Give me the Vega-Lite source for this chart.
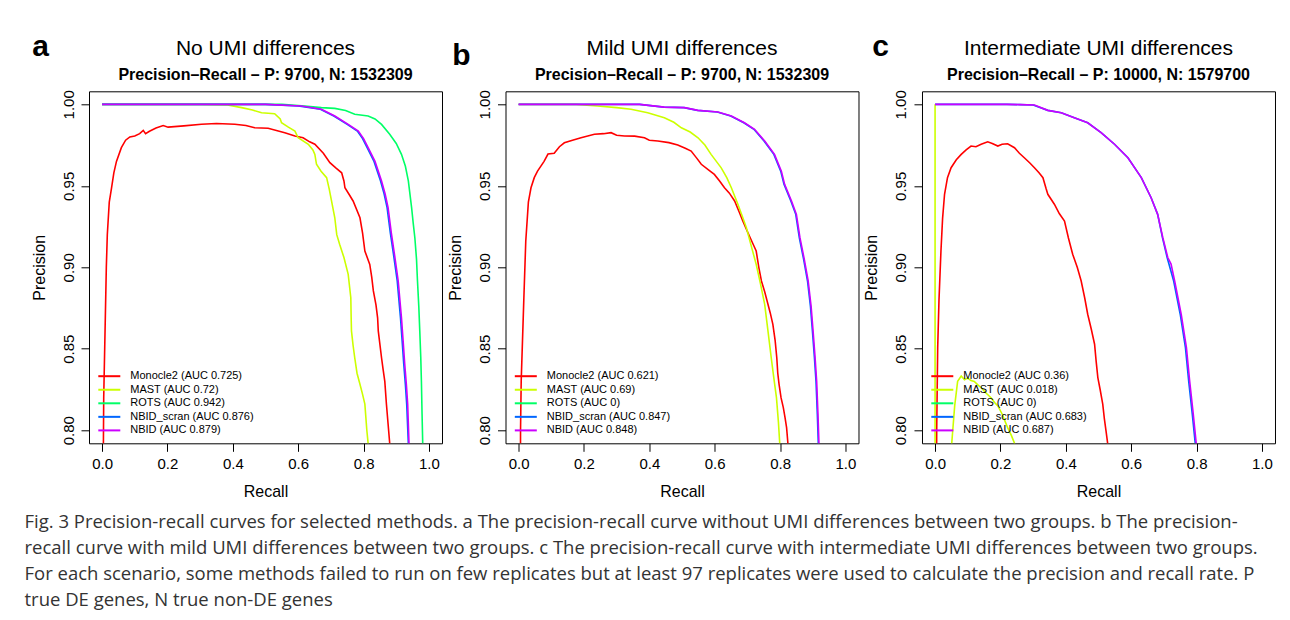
{
"$schema": "https://vega.github.io/schema/vega-lite/v6.json",
"background": "white",
"autosize": {"type": "pad"},
"padding": {"left": 24, "top": 30.3, "right": 0, "bottom": 0},
"bounds": "flush",
"spacing": 63.5,
"title": {"text": ["Fig. 3 Precision-recall curves for selected methods. a The precision-recall curve without UMI differences between two groups. b The precision-", "recall curve with mild UMI differences between two groups. c The precision-recall curve with intermediate UMI differences between two groups.", "For each scenario, some methods failed to run on few replicates but at least 97 replicates were used to calculate the precision and recall rate. P", "true DE genes, N true non-DE genes"], "orient": "bottom", "anchor": "start", "frame": "bounds", "font": "Open Sans", "fontSize": 18.5, "fontWeight": "normal", "color": "#333333", "lineHeight": 26, "offset": 13.1, "dx": -6},
"datasets": {
"a": [
{"m":"Monocle2 (AUC 0.725)","r":0.001,"p":0.70},{"m":"Monocle2 (AUC 0.725)","r":0.005,"p":0.82},{"m":"Monocle2 (AUC 0.725)","r":0.008,"p":0.85},{"m":"Monocle2 (AUC 0.725)","r":0.010,"p":0.870},{"m":"Monocle2 (AUC 0.725)","r":0.013,"p":0.90},{"m":"Monocle2 (AUC 0.725)","r":0.016,"p":0.920},{"m":"Monocle2 (AUC 0.725)","r":0.022,"p":0.94},{"m":"Monocle2 (AUC 0.725)","r":0.029,"p":0.9487},{"m":"Monocle2 (AUC 0.725)","r":0.036,"p":0.958},{"m":"Monocle2 (AUC 0.725)","r":0.044,"p":0.965},{"m":"Monocle2 (AUC 0.725)","r":0.059,"p":0.9734},{"m":"Monocle2 (AUC 0.725)","r":0.072,"p":0.978},{"m":"Monocle2 (AUC 0.725)","r":0.085,"p":0.980},{"m":"Monocle2 (AUC 0.725)","r":0.1,"p":0.9806},{"m":"Monocle2 (AUC 0.725)","r":0.115,"p":0.982},{"m":"Monocle2 (AUC 0.725)","r":0.126,"p":0.984},{"m":"Monocle2 (AUC 0.725)","r":0.133,"p":0.982},{"m":"Monocle2 (AUC 0.725)","r":0.145,"p":0.9835},{"m":"Monocle2 (AUC 0.725)","r":0.165,"p":0.9855},{"m":"Monocle2 (AUC 0.725)","r":0.187,"p":0.987},{"m":"Monocle2 (AUC 0.725)","r":0.202,"p":0.986},{"m":"Monocle2 (AUC 0.725)","r":0.25,"p":0.9868},{"m":"Monocle2 (AUC 0.725)","r":0.304,"p":0.9878},{"m":"Monocle2 (AUC 0.725)","r":0.35,"p":0.9882},{"m":"Monocle2 (AUC 0.725)","r":0.406,"p":0.9878},{"m":"Monocle2 (AUC 0.725)","r":0.44,"p":0.987},{"m":"Monocle2 (AUC 0.725)","r":0.467,"p":0.9856},{"m":"Monocle2 (AUC 0.725)","r":0.508,"p":0.9853},{"m":"Monocle2 (AUC 0.725)","r":0.559,"p":0.9826},{"m":"Monocle2 (AUC 0.725)","r":0.59,"p":0.9806},{"m":"Monocle2 (AUC 0.725)","r":0.615,"p":0.9795},{"m":"Monocle2 (AUC 0.725)","r":0.635,"p":0.977},{"m":"Monocle2 (AUC 0.725)","r":0.651,"p":0.9755},{"m":"Monocle2 (AUC 0.725)","r":0.677,"p":0.970},{"m":"Monocle2 (AUC 0.725)","r":0.697,"p":0.9642},{"m":"Monocle2 (AUC 0.725)","r":0.715,"p":0.961},{"m":"Monocle2 (AUC 0.725)","r":0.733,"p":0.958},{"m":"Monocle2 (AUC 0.725)","r":0.740,"p":0.953},{"m":"Monocle2 (AUC 0.725)","r":0.743,"p":0.9488},{"m":"Monocle2 (AUC 0.725)","r":0.755,"p":0.945},{"m":"Monocle2 (AUC 0.725)","r":0.768,"p":0.9407},{"m":"Monocle2 (AUC 0.725)","r":0.789,"p":0.9304},{"m":"Monocle2 (AUC 0.725)","r":0.797,"p":0.921},{"m":"Monocle2 (AUC 0.725)","r":0.804,"p":0.910},{"m":"Monocle2 (AUC 0.725)","r":0.819,"p":0.9018},{"m":"Monocle2 (AUC 0.725)","r":0.825,"p":0.894},{"m":"Monocle2 (AUC 0.725)","r":0.830,"p":0.8855},{"m":"Monocle2 (AUC 0.725)","r":0.838,"p":0.877},{"m":"Monocle2 (AUC 0.725)","r":0.843,"p":0.869},{"m":"Monocle2 (AUC 0.725)","r":0.845,"p":0.861},{"m":"Monocle2 (AUC 0.725)","r":0.855,"p":0.8445},{"m":"Monocle2 (AUC 0.725)","r":0.860,"p":0.837},{"m":"Monocle2 (AUC 0.725)","r":0.865,"p":0.830},{"m":"Monocle2 (AUC 0.725)","r":0.870,"p":0.816},{"m":"Monocle2 (AUC 0.725)","r":0.875,"p":0.804},{"m":"Monocle2 (AUC 0.725)","r":0.880,"p":0.792},{"m":"Monocle2 (AUC 0.725)","r":0.885,"p":0.78},
{"m":"MAST (AUC 0.72)","r":0,"p":1},{"m":"MAST (AUC 0.72)","r":0.30,"p":1},{"m":"MAST (AUC 0.72)","r":0.38,"p":0.9997},{"m":"MAST (AUC 0.72)","r":0.427,"p":0.998},{"m":"MAST (AUC 0.72)","r":0.46,"p":0.9965},{"m":"MAST (AUC 0.72)","r":0.488,"p":0.9948},{"m":"MAST (AUC 0.72)","r":0.528,"p":0.9942},{"m":"MAST (AUC 0.72)","r":0.545,"p":0.991},{"m":"MAST (AUC 0.72)","r":0.549,"p":0.9887},{"m":"MAST (AUC 0.72)","r":0.570,"p":0.986},{"m":"MAST (AUC 0.72)","r":0.590,"p":0.9836},{"m":"MAST (AUC 0.72)","r":0.600,"p":0.9795},{"m":"MAST (AUC 0.72)","r":0.631,"p":0.9755},{"m":"MAST (AUC 0.72)","r":0.645,"p":0.972},{"m":"MAST (AUC 0.72)","r":0.651,"p":0.9693},{"m":"MAST (AUC 0.72)","r":0.656,"p":0.9632},{"m":"MAST (AUC 0.72)","r":0.670,"p":0.959},{"m":"MAST (AUC 0.72)","r":0.687,"p":0.955},{"m":"MAST (AUC 0.72)","r":0.695,"p":0.948},{"m":"MAST (AUC 0.72)","r":0.702,"p":0.9407},{"m":"MAST (AUC 0.72)","r":0.712,"p":0.9304},{"m":"MAST (AUC 0.72)","r":0.718,"p":0.92},{"m":"MAST (AUC 0.72)","r":0.727,"p":0.914},{"m":"MAST (AUC 0.72)","r":0.740,"p":0.906},{"m":"MAST (AUC 0.72)","r":0.753,"p":0.8957},{"m":"MAST (AUC 0.72)","r":0.761,"p":0.8813},{"m":"MAST (AUC 0.72)","r":0.762,"p":0.87},{"m":"MAST (AUC 0.72)","r":0.763,"p":0.861},{"m":"MAST (AUC 0.72)","r":0.768,"p":0.852},{"m":"MAST (AUC 0.72)","r":0.773,"p":0.8445},{"m":"MAST (AUC 0.72)","r":0.780,"p":0.835},{"m":"MAST (AUC 0.72)","r":0.789,"p":0.8282},{"m":"MAST (AUC 0.72)","r":0.797,"p":0.822},{"m":"MAST (AUC 0.72)","r":0.804,"p":0.816},{"m":"MAST (AUC 0.72)","r":0.810,"p":0.80},{"m":"MAST (AUC 0.72)","r":0.814,"p":0.792},{"m":"MAST (AUC 0.72)","r":0.816,"p":0.78},
{"m":"ROTS (AUC 0.942)","r":0,"p":1},{"m":"ROTS (AUC 0.942)","r":0.55,"p":1},{"m":"ROTS (AUC 0.942)","r":0.62,"p":0.999},{"m":"ROTS (AUC 0.942)","r":0.671,"p":0.998},{"m":"ROTS (AUC 0.942)","r":0.712,"p":0.9975},{"m":"ROTS (AUC 0.942)","r":0.745,"p":0.9962},{"m":"ROTS (AUC 0.942)","r":0.773,"p":0.9939},{"m":"ROTS (AUC 0.942)","r":0.814,"p":0.9928},{"m":"ROTS (AUC 0.942)","r":0.835,"p":0.991},{"m":"ROTS (AUC 0.942)","r":0.855,"p":0.9877},{"m":"ROTS (AUC 0.942)","r":0.880,"p":0.9816},{"m":"ROTS (AUC 0.942)","r":0.900,"p":0.976},{"m":"ROTS (AUC 0.942)","r":0.916,"p":0.9693},{"m":"ROTS (AUC 0.942)","r":0.928,"p":0.962},{"m":"ROTS (AUC 0.942)","r":0.937,"p":0.953},{"m":"ROTS (AUC 0.942)","r":0.947,"p":0.9366},{"m":"ROTS (AUC 0.942)","r":0.952,"p":0.927},{"m":"ROTS (AUC 0.942)","r":0.957,"p":0.918},{"m":"ROTS (AUC 0.942)","r":0.962,"p":0.905},{"m":"ROTS (AUC 0.942)","r":0.965,"p":0.8916},{"m":"ROTS (AUC 0.942)","r":0.969,"p":0.876},{"m":"ROTS (AUC 0.942)","r":0.972,"p":0.861},{"m":"ROTS (AUC 0.942)","r":0.975,"p":0.845},{"m":"ROTS (AUC 0.942)","r":0.977,"p":0.830},{"m":"ROTS (AUC 0.942)","r":0.979,"p":0.81},{"m":"ROTS (AUC 0.942)","r":0.981,"p":0.792},{"m":"ROTS (AUC 0.942)","r":0.982,"p":0.78},
{"m":"NBID_scran (AUC 0.876)","r":0,"p":1},{"m":"NBID_scran (AUC 0.876)","r":0.50,"p":1},{"m":"NBID_scran (AUC 0.876)","r":0.60,"p":0.999},{"m":"NBID_scran (AUC 0.876)","r":0.668,"p":0.997},{"m":"NBID_scran (AUC 0.876)","r":0.709,"p":0.9928},{"m":"NBID_scran (AUC 0.876)","r":0.750,"p":0.9877},{"m":"NBID_scran (AUC 0.876)","r":0.781,"p":0.9836},{"m":"NBID_scran (AUC 0.876)","r":0.797,"p":0.979},{"m":"NBID_scran (AUC 0.876)","r":0.811,"p":0.9734},{"m":"NBID_scran (AUC 0.876)","r":0.832,"p":0.965},{"m":"NBID_scran (AUC 0.876)","r":0.852,"p":0.953},{"m":"NBID_scran (AUC 0.876)","r":0.863,"p":0.945},{"m":"NBID_scran (AUC 0.876)","r":0.872,"p":0.9366},{"m":"NBID_scran (AUC 0.876)","r":0.882,"p":0.921},{"m":"NBID_scran (AUC 0.876)","r":0.893,"p":0.906},{"m":"NBID_scran (AUC 0.876)","r":0.903,"p":0.8916},{"m":"NBID_scran (AUC 0.876)","r":0.913,"p":0.869},{"m":"NBID_scran (AUC 0.876)","r":0.918,"p":0.855},{"m":"NBID_scran (AUC 0.876)","r":0.923,"p":0.8405},{"m":"NBID_scran (AUC 0.876)","r":0.928,"p":0.828},{"m":"NBID_scran (AUC 0.876)","r":0.932,"p":0.816},{"m":"NBID_scran (AUC 0.876)","r":0.937,"p":0.792},{"m":"NBID_scran (AUC 0.876)","r":0.938,"p":0.78},
{"m":"NBID (AUC 0.879)","r":0,"p":1},{"m":"NBID (AUC 0.879)","r":0.50,"p":1},{"m":"NBID (AUC 0.879)","r":0.61,"p":0.999},{"m":"NBID (AUC 0.879)","r":0.671,"p":0.997},{"m":"NBID (AUC 0.879)","r":0.712,"p":0.9928},{"m":"NBID (AUC 0.879)","r":0.753,"p":0.9877},{"m":"NBID (AUC 0.879)","r":0.784,"p":0.9836},{"m":"NBID (AUC 0.879)","r":0.800,"p":0.979},{"m":"NBID (AUC 0.879)","r":0.814,"p":0.9734},{"m":"NBID (AUC 0.879)","r":0.835,"p":0.965},{"m":"NBID (AUC 0.879)","r":0.855,"p":0.953},{"m":"NBID (AUC 0.879)","r":0.866,"p":0.945},{"m":"NBID (AUC 0.879)","r":0.875,"p":0.9366},{"m":"NBID (AUC 0.879)","r":0.885,"p":0.921},{"m":"NBID (AUC 0.879)","r":0.896,"p":0.906},{"m":"NBID (AUC 0.879)","r":0.906,"p":0.8916},{"m":"NBID (AUC 0.879)","r":0.916,"p":0.869},{"m":"NBID (AUC 0.879)","r":0.921,"p":0.855},{"m":"NBID (AUC 0.879)","r":0.926,"p":0.8405},{"m":"NBID (AUC 0.879)","r":0.931,"p":0.828},{"m":"NBID (AUC 0.879)","r":0.935,"p":0.816},{"m":"NBID (AUC 0.879)","r":0.939,"p":0.792},{"m":"NBID (AUC 0.879)","r":0.940,"p":0.78}
],
"b": [
{"m":"Monocle2 (AUC 0.621)","r":0.005,"p":0.70},{"m":"Monocle2 (AUC 0.621)","r":0.006,"p":0.80},{"m":"Monocle2 (AUC 0.621)","r":0.008,"p":0.83},{"m":"Monocle2 (AUC 0.621)","r":0.012,"p":0.855},{"m":"Monocle2 (AUC 0.621)","r":0.016,"p":0.88},{"m":"Monocle2 (AUC 0.621)","r":0.022,"p":0.916},{"m":"Monocle2 (AUC 0.621)","r":0.030,"p":0.94},{"m":"Monocle2 (AUC 0.621)","r":0.038,"p":0.9488},{"m":"Monocle2 (AUC 0.621)","r":0.048,"p":0.955},{"m":"Monocle2 (AUC 0.621)","r":0.058,"p":0.959},{"m":"Monocle2 (AUC 0.621)","r":0.078,"p":0.965},{"m":"Monocle2 (AUC 0.621)","r":0.090,"p":0.9695},{"m":"Monocle2 (AUC 0.621)","r":0.109,"p":0.970},{"m":"Monocle2 (AUC 0.621)","r":0.125,"p":0.974},{"m":"Monocle2 (AUC 0.621)","r":0.14,"p":0.9764},{"m":"Monocle2 (AUC 0.621)","r":0.165,"p":0.978},{"m":"Monocle2 (AUC 0.621)","r":0.191,"p":0.9795},{"m":"Monocle2 (AUC 0.621)","r":0.232,"p":0.9816},{"m":"Monocle2 (AUC 0.621)","r":0.26,"p":0.982},{"m":"Monocle2 (AUC 0.621)","r":0.283,"p":0.9826},{"m":"Monocle2 (AUC 0.621)","r":0.300,"p":0.981},{"m":"Monocle2 (AUC 0.621)","r":0.324,"p":0.9806},{"m":"Monocle2 (AUC 0.621)","r":0.355,"p":0.9805},{"m":"Monocle2 (AUC 0.621)","r":0.385,"p":0.9795},{"m":"Monocle2 (AUC 0.621)","r":0.40,"p":0.978},{"m":"Monocle2 (AUC 0.621)","r":0.426,"p":0.9775},{"m":"Monocle2 (AUC 0.621)","r":0.46,"p":0.9765},{"m":"Monocle2 (AUC 0.621)","r":0.487,"p":0.975},{"m":"Monocle2 (AUC 0.621)","r":0.510,"p":0.973},{"m":"Monocle2 (AUC 0.621)","r":0.528,"p":0.9713},{"m":"Monocle2 (AUC 0.621)","r":0.545,"p":0.967},{"m":"Monocle2 (AUC 0.621)","r":0.559,"p":0.9632},{"m":"Monocle2 (AUC 0.621)","r":0.580,"p":0.960},{"m":"Monocle2 (AUC 0.621)","r":0.599,"p":0.957},{"m":"Monocle2 (AUC 0.621)","r":0.615,"p":0.953},{"m":"Monocle2 (AUC 0.621)","r":0.630,"p":0.9488},{"m":"Monocle2 (AUC 0.621)","r":0.645,"p":0.9455},{"m":"Monocle2 (AUC 0.621)","r":0.661,"p":0.9407},{"m":"Monocle2 (AUC 0.621)","r":0.675,"p":0.934},{"m":"Monocle2 (AUC 0.621)","r":0.686,"p":0.9284},{"m":"Monocle2 (AUC 0.621)","r":0.700,"p":0.922},{"m":"Monocle2 (AUC 0.621)","r":0.709,"p":0.918},{"m":"Monocle2 (AUC 0.621)","r":0.718,"p":0.914},{"m":"Monocle2 (AUC 0.621)","r":0.727,"p":0.910},{"m":"Monocle2 (AUC 0.621)","r":0.735,"p":0.900},{"m":"Monocle2 (AUC 0.621)","r":0.743,"p":0.8916},{"m":"Monocle2 (AUC 0.621)","r":0.753,"p":0.885},{"m":"Monocle2 (AUC 0.621)","r":0.763,"p":0.8773},{"m":"Monocle2 (AUC 0.621)","r":0.770,"p":0.872},{"m":"Monocle2 (AUC 0.621)","r":0.778,"p":0.865},{"m":"Monocle2 (AUC 0.621)","r":0.785,"p":0.855},{"m":"Monocle2 (AUC 0.621)","r":0.790,"p":0.8445},{"m":"Monocle2 (AUC 0.621)","r":0.793,"p":0.835},{"m":"Monocle2 (AUC 0.621)","r":0.797,"p":0.8282},{"m":"Monocle2 (AUC 0.621)","r":0.803,"p":0.82},{"m":"Monocle2 (AUC 0.621)","r":0.810,"p":0.8139},{"m":"Monocle2 (AUC 0.621)","r":0.815,"p":0.808},{"m":"Monocle2 (AUC 0.621)","r":0.820,"p":0.8016},{"m":"Monocle2 (AUC 0.621)","r":0.824,"p":0.792},{"m":"Monocle2 (AUC 0.621)","r":0.826,"p":0.78},
{"m":"MAST (AUC 0.69)","r":0,"p":1},{"m":"MAST (AUC 0.69)","r":0.176,"p":1},{"m":"MAST (AUC 0.69)","r":0.242,"p":0.999},{"m":"MAST (AUC 0.69)","r":0.30,"p":0.998},{"m":"MAST (AUC 0.69)","r":0.344,"p":0.997},{"m":"MAST (AUC 0.69)","r":0.395,"p":0.9948},{"m":"MAST (AUC 0.69)","r":0.446,"p":0.9918},{"m":"MAST (AUC 0.69)","r":0.475,"p":0.989},{"m":"MAST (AUC 0.69)","r":0.498,"p":0.9856},{"m":"MAST (AUC 0.69)","r":0.525,"p":0.983},{"m":"MAST (AUC 0.69)","r":0.549,"p":0.9795},{"m":"MAST (AUC 0.69)","r":0.570,"p":0.975},{"m":"MAST (AUC 0.69)","r":0.589,"p":0.9693},{"m":"MAST (AUC 0.69)","r":0.620,"p":0.961},{"m":"MAST (AUC 0.69)","r":0.637,"p":0.955},{"m":"MAST (AUC 0.69)","r":0.651,"p":0.9488},{"m":"MAST (AUC 0.69)","r":0.671,"p":0.9387},{"m":"MAST (AUC 0.69)","r":0.685,"p":0.931},{"m":"MAST (AUC 0.69)","r":0.697,"p":0.9243},{"m":"MAST (AUC 0.69)","r":0.712,"p":0.913},{"m":"MAST (AUC 0.69)","r":0.727,"p":0.9018},{"m":"MAST (AUC 0.69)","r":0.740,"p":0.89},{"m":"MAST (AUC 0.69)","r":0.753,"p":0.8773},{"m":"MAST (AUC 0.69)","r":0.763,"p":0.861},{"m":"MAST (AUC 0.69)","r":0.773,"p":0.8445},{"m":"MAST (AUC 0.69)","r":0.781,"p":0.832},{"m":"MAST (AUC 0.69)","r":0.789,"p":0.820},{"m":"MAST (AUC 0.69)","r":0.795,"p":0.805},{"m":"MAST (AUC 0.69)","r":0.799,"p":0.792},{"m":"MAST (AUC 0.69)","r":0.801,"p":0.78},
{"m":"NBID_scran (AUC 0.847)","r":0,"p":1},{"m":"NBID_scran (AUC 0.847)","r":0.37,"p":1},{"m":"NBID_scran (AUC 0.847)","r":0.444,"p":0.9983},{"m":"NBID_scran (AUC 0.847)","r":0.506,"p":0.998},{"m":"NBID_scran (AUC 0.847)","r":0.547,"p":0.9963},{"m":"NBID_scran (AUC 0.847)","r":0.608,"p":0.9953},{"m":"NBID_scran (AUC 0.847)","r":0.649,"p":0.9928},{"m":"NBID_scran (AUC 0.847)","r":0.689,"p":0.9887},{"m":"NBID_scran (AUC 0.847)","r":0.720,"p":0.9847},{"m":"NBID_scran (AUC 0.847)","r":0.751,"p":0.9775},{"m":"NBID_scran (AUC 0.847)","r":0.781,"p":0.9693},{"m":"NBID_scran (AUC 0.847)","r":0.802,"p":0.959},{"m":"NBID_scran (AUC 0.847)","r":0.812,"p":0.9509},{"m":"NBID_scran (AUC 0.847)","r":0.833,"p":0.9407},{"m":"NBID_scran (AUC 0.847)","r":0.848,"p":0.9325},{"m":"NBID_scran (AUC 0.847)","r":0.859,"p":0.918},{"m":"NBID_scran (AUC 0.847)","r":0.872,"p":0.905},{"m":"NBID_scran (AUC 0.847)","r":0.884,"p":0.8916},{"m":"NBID_scran (AUC 0.847)","r":0.893,"p":0.876},{"m":"NBID_scran (AUC 0.847)","r":0.899,"p":0.861},{"m":"NBID_scran (AUC 0.847)","r":0.905,"p":0.845},{"m":"NBID_scran (AUC 0.847)","r":0.910,"p":0.830},{"m":"NBID_scran (AUC 0.847)","r":0.914,"p":0.81},{"m":"NBID_scran (AUC 0.847)","r":0.917,"p":0.792},{"m":"NBID_scran (AUC 0.847)","r":0.918,"p":0.78},
{"m":"NBID (AUC 0.848)","r":0,"p":1},{"m":"NBID (AUC 0.848)","r":0.37,"p":1},{"m":"NBID (AUC 0.848)","r":0.446,"p":0.9983},{"m":"NBID (AUC 0.848)","r":0.508,"p":0.998},{"m":"NBID (AUC 0.848)","r":0.549,"p":0.9963},{"m":"NBID (AUC 0.848)","r":0.610,"p":0.9953},{"m":"NBID (AUC 0.848)","r":0.651,"p":0.9928},{"m":"NBID (AUC 0.848)","r":0.691,"p":0.9887},{"m":"NBID (AUC 0.848)","r":0.722,"p":0.9847},{"m":"NBID (AUC 0.848)","r":0.753,"p":0.9775},{"m":"NBID (AUC 0.848)","r":0.783,"p":0.9693},{"m":"NBID (AUC 0.848)","r":0.804,"p":0.959},{"m":"NBID (AUC 0.848)","r":0.814,"p":0.9509},{"m":"NBID (AUC 0.848)","r":0.835,"p":0.9407},{"m":"NBID (AUC 0.848)","r":0.850,"p":0.9325},{"m":"NBID (AUC 0.848)","r":0.861,"p":0.918},{"m":"NBID (AUC 0.848)","r":0.874,"p":0.905},{"m":"NBID (AUC 0.848)","r":0.886,"p":0.8916},{"m":"NBID (AUC 0.848)","r":0.895,"p":0.876},{"m":"NBID (AUC 0.848)","r":0.901,"p":0.861},{"m":"NBID (AUC 0.848)","r":0.907,"p":0.845},{"m":"NBID (AUC 0.848)","r":0.912,"p":0.830},{"m":"NBID (AUC 0.848)","r":0.916,"p":0.81},{"m":"NBID (AUC 0.848)","r":0.919,"p":0.792},{"m":"NBID (AUC 0.848)","r":0.920,"p":0.78}
],
"c": [
{"m":"Monocle2 (AUC 0.36)","r":0.003,"p":0.70},{"m":"Monocle2 (AUC 0.36)","r":0.005,"p":0.80},{"m":"Monocle2 (AUC 0.36)","r":0.008,"p":0.8507},{"m":"Monocle2 (AUC 0.36)","r":0.012,"p":0.88},{"m":"Monocle2 (AUC 0.36)","r":0.018,"p":0.910},{"m":"Monocle2 (AUC 0.36)","r":0.023,"p":0.93},{"m":"Monocle2 (AUC 0.36)","r":0.029,"p":0.9448},{"m":"Monocle2 (AUC 0.36)","r":0.038,"p":0.955},{"m":"Monocle2 (AUC 0.36)","r":0.049,"p":0.9611},{"m":"Monocle2 (AUC 0.36)","r":0.065,"p":0.966},{"m":"Monocle2 (AUC 0.36)","r":0.080,"p":0.9693},{"m":"Monocle2 (AUC 0.36)","r":0.095,"p":0.972},{"m":"Monocle2 (AUC 0.36)","r":0.11,"p":0.9744},{"m":"Monocle2 (AUC 0.36)","r":0.125,"p":0.974},{"m":"Monocle2 (AUC 0.36)","r":0.141,"p":0.9755},{"m":"Monocle2 (AUC 0.36)","r":0.161,"p":0.977},{"m":"Monocle2 (AUC 0.36)","r":0.175,"p":0.976},{"m":"Monocle2 (AUC 0.36)","r":0.192,"p":0.9744},{"m":"Monocle2 (AUC 0.36)","r":0.205,"p":0.9755},{"m":"Monocle2 (AUC 0.36)","r":0.222,"p":0.9758},{"m":"Monocle2 (AUC 0.36)","r":0.243,"p":0.9734},{"m":"Monocle2 (AUC 0.36)","r":0.258,"p":0.970},{"m":"Monocle2 (AUC 0.36)","r":0.273,"p":0.9672},{"m":"Monocle2 (AUC 0.36)","r":0.290,"p":0.964},{"m":"Monocle2 (AUC 0.36)","r":0.304,"p":0.9611},{"m":"Monocle2 (AUC 0.36)","r":0.318,"p":0.958},{"m":"Monocle2 (AUC 0.36)","r":0.330,"p":0.955},{"m":"Monocle2 (AUC 0.36)","r":0.340,"p":0.948},{"m":"Monocle2 (AUC 0.36)","r":0.345,"p":0.9448},{"m":"Monocle2 (AUC 0.36)","r":0.365,"p":0.9387},{"m":"Monocle2 (AUC 0.36)","r":0.380,"p":0.933},{"m":"Monocle2 (AUC 0.36)","r":0.396,"p":0.9284},{"m":"Monocle2 (AUC 0.36)","r":0.408,"p":0.918},{"m":"Monocle2 (AUC 0.36)","r":0.421,"p":0.908},{"m":"Monocle2 (AUC 0.36)","r":0.435,"p":0.900},{"m":"Monocle2 (AUC 0.36)","r":0.447,"p":0.8916},{"m":"Monocle2 (AUC 0.36)","r":0.458,"p":0.881},{"m":"Monocle2 (AUC 0.36)","r":0.467,"p":0.8712},{"m":"Monocle2 (AUC 0.36)","r":0.478,"p":0.862},{"m":"Monocle2 (AUC 0.36)","r":0.488,"p":0.8528},{"m":"Monocle2 (AUC 0.36)","r":0.493,"p":0.842},{"m":"Monocle2 (AUC 0.36)","r":0.498,"p":0.8323},{"m":"Monocle2 (AUC 0.36)","r":0.505,"p":0.825},{"m":"Monocle2 (AUC 0.36)","r":0.513,"p":0.816},{"m":"Monocle2 (AUC 0.36)","r":0.518,"p":0.807},{"m":"Monocle2 (AUC 0.36)","r":0.523,"p":0.7996},{"m":"Monocle2 (AUC 0.36)","r":0.528,"p":0.792},{"m":"Monocle2 (AUC 0.36)","r":0.530,"p":0.78},
{"m":"MAST (AUC 0.018)","r":0,"p":1},{"m":"MAST (AUC 0.018)","r":0,"p":0.70},{"m":"MAST (AUC 0.018)","r":0.045,"p":0.70},{"m":"MAST (AUC 0.018)","r":0.051,"p":0.792},{"m":"MAST (AUC 0.018)","r":0.060,"p":0.815},{"m":"MAST (AUC 0.018)","r":0.069,"p":0.830},{"m":"MAST (AUC 0.018)","r":0.080,"p":0.8333},{"m":"MAST (AUC 0.018)","r":0.09,"p":0.831},{"m":"MAST (AUC 0.018)","r":0.10,"p":0.832},{"m":"MAST (AUC 0.018)","r":0.11,"p":0.8305},{"m":"MAST (AUC 0.018)","r":0.12,"p":0.830},{"m":"MAST (AUC 0.018)","r":0.13,"p":0.828},{"m":"MAST (AUC 0.018)","r":0.141,"p":0.8261},{"m":"MAST (AUC 0.018)","r":0.155,"p":0.823},{"m":"MAST (AUC 0.018)","r":0.171,"p":0.820},{"m":"MAST (AUC 0.018)","r":0.182,"p":0.817},{"m":"MAST (AUC 0.018)","r":0.192,"p":0.815},{"m":"MAST (AUC 0.018)","r":0.205,"p":0.81},{"m":"MAST (AUC 0.018)","r":0.222,"p":0.8016},{"m":"MAST (AUC 0.018)","r":0.233,"p":0.797},{"m":"MAST (AUC 0.018)","r":0.243,"p":0.792},{"m":"MAST (AUC 0.018)","r":0.25,"p":0.78},
{"m":"NBID_scran (AUC 0.683)","r":0,"p":1},{"m":"NBID_scran (AUC 0.683)","r":0.22,"p":1},{"m":"NBID_scran (AUC 0.683)","r":0.26,"p":0.9998},{"m":"NBID_scran (AUC 0.683)","r":0.300,"p":0.9996},{"m":"NBID_scran (AUC 0.683)","r":0.345,"p":0.9963},{"m":"NBID_scran (AUC 0.683)","r":0.386,"p":0.9948},{"m":"NBID_scran (AUC 0.683)","r":0.426,"p":0.9918},{"m":"NBID_scran (AUC 0.683)","r":0.467,"p":0.9887},{"m":"NBID_scran (AUC 0.683)","r":0.508,"p":0.9826},{"m":"NBID_scran (AUC 0.683)","r":0.549,"p":0.9755},{"m":"NBID_scran (AUC 0.683)","r":0.590,"p":0.9672},{"m":"NBID_scran (AUC 0.683)","r":0.631,"p":0.955},{"m":"NBID_scran (AUC 0.683)","r":0.661,"p":0.9427},{"m":"NBID_scran (AUC 0.683)","r":0.681,"p":0.9325},{"m":"NBID_scran (AUC 0.683)","r":0.696,"p":0.918},{"m":"NBID_scran (AUC 0.683)","r":0.710,"p":0.906},{"m":"NBID_scran (AUC 0.683)","r":0.730,"p":0.8916},{"m":"NBID_scran (AUC 0.683)","r":0.750,"p":0.8712},{"m":"NBID_scran (AUC 0.683)","r":0.766,"p":0.8507},{"m":"NBID_scran (AUC 0.683)","r":0.776,"p":0.830},{"m":"NBID_scran (AUC 0.683)","r":0.787,"p":0.8098},{"m":"NBID_scran (AUC 0.683)","r":0.796,"p":0.792},{"m":"NBID_scran (AUC 0.683)","r":0.797,"p":0.78},
{"m":"NBID (AUC 0.687)","r":0,"p":1},{"m":"NBID (AUC 0.687)","r":0.22,"p":1},{"m":"NBID (AUC 0.687)","r":0.26,"p":0.9998},{"m":"NBID (AUC 0.687)","r":0.304,"p":0.9996},{"m":"NBID (AUC 0.687)","r":0.345,"p":0.9963},{"m":"NBID (AUC 0.687)","r":0.386,"p":0.9948},{"m":"NBID (AUC 0.687)","r":0.426,"p":0.9918},{"m":"NBID (AUC 0.687)","r":0.467,"p":0.9887},{"m":"NBID (AUC 0.687)","r":0.508,"p":0.9826},{"m":"NBID (AUC 0.687)","r":0.549,"p":0.9755},{"m":"NBID (AUC 0.687)","r":0.590,"p":0.9672},{"m":"NBID (AUC 0.687)","r":0.631,"p":0.955},{"m":"NBID (AUC 0.687)","r":0.661,"p":0.9427},{"m":"NBID (AUC 0.687)","r":0.681,"p":0.9325},{"m":"NBID (AUC 0.687)","r":0.697,"p":0.918},{"m":"NBID (AUC 0.687)","r":0.712,"p":0.906},{"m":"NBID (AUC 0.687)","r":0.722,"p":0.902},{"m":"NBID (AUC 0.687)","r":0.733,"p":0.8916},{"m":"NBID (AUC 0.687)","r":0.753,"p":0.8712},{"m":"NBID (AUC 0.687)","r":0.769,"p":0.8507},{"m":"NBID (AUC 0.687)","r":0.779,"p":0.830},{"m":"NBID (AUC 0.687)","r":0.790,"p":0.8098},{"m":"NBID (AUC 0.687)","r":0.799,"p":0.792},{"m":"NBID (AUC 0.687)","r":0.800,"p":0.78}
]
},
"hconcat": [
{
"width": 353, "height": 352,
"data": {"name": "a"},
"title": {"text": "No UMI differences", "subtitle": "Precision\u2013Recall \u2013 P: 9700, N: 1532309", "anchor": "middle", "frame": "group", "offset": -51, "subtitlePadding": 7.3, "font": "Liberation Sans", "fontSize": 21, "fontWeight": "normal", "color": "black", "subtitleFont": "Liberation Sans", "subtitleFontSize": 16, "subtitleFontWeight": "bold", "subtitleColor": "black"},
"encoding": {"y": {"field": "p", "type": "quantitative", "title": "Precision", "scale": {"domain": [0.792, 1.008], "nice": false, "zero": false}, "axis": {"values": [0.8, 0.85, 0.9, 0.95, 1.0], "format": ".2f", "labelAngle": 270, "labelAlign": "center", "labelBaseline": "bottom", "labelPadding": 5, "titlePadding": 14}}},
"layer": [
{"mark": {"type": "line", "clip": true, "strokeWidth": 1.6}, "encoding": {
"x": {"field": "r", "type": "quantitative", "title": "Recall", "scale": {"domain": [-0.04, 1.04], "nice": false, "zero": false}, "axis": {"values": [0, 0.2, 0.4, 0.6, 0.8, 1.0], "format": ".1f", "labelPadding": 5, "titlePadding": 12, "labelFlush": false}},
"color": {"field": "m", "type": "nominal", "scale": {"domain": ["Monocle2 (AUC 0.725)", "MAST (AUC 0.72)", "ROTS (AUC 0.942)", "NBID_scran (AUC 0.876)", "NBID (AUC 0.879)"], "range": ["#FF0000", "#CCFF00", "#00FF66", "#0066FF", "#CC00FF"]}, "legend": {"orient": "none", "legendX": 13.8, "legendY": 278.4}},
"order": {"value": null}}},
{"mark": {"type": "line", "opacity": 0, "clip": true}, "encoding": {
"x": {"field": "r", "type": "quantitative", "title": "a", "scale": {"domain": [-0.04, 1.04], "nice": false, "zero": false}, "axis": {"orient": "top", "labels": false, "ticks": false, "domain": false, "titleX": -57.3, "titleY": -35.7, "titleAlign": "left", "titleAnchor": "start", "titleBaseline": "alphabetic", "titleAngle": 0, "titleFontSize": 30, "titleFontWeight": "bold", "titlePadding": 0}},
"detail": {"field": "m"}, "order": {"value": null}}}
],
"resolve": {"axis": {"x": "independent"}}
},
{
"width": 353, "height": 352,
"data": {"name": "b"},
"title": {"text": "Mild UMI differences", "subtitle": "Precision\u2013Recall \u2013 P: 9700, N: 1532309", "anchor": "middle", "frame": "group", "offset": -42, "subtitlePadding": 7.3, "font": "Liberation Sans", "fontSize": 21, "fontWeight": "normal", "color": "black", "subtitleFont": "Liberation Sans", "subtitleFontSize": 16, "subtitleFontWeight": "bold", "subtitleColor": "black"},
"encoding": {"y": {"field": "p", "type": "quantitative", "title": "Precision", "scale": {"domain": [0.792, 1.008], "nice": false, "zero": false}, "axis": {"values": [0.8, 0.85, 0.9, 0.95, 1.0], "format": ".2f", "labelAngle": 270, "labelAlign": "center", "labelBaseline": "bottom", "labelPadding": 5, "titlePadding": 14}}},
"layer": [
{"mark": {"type": "line", "clip": true, "strokeWidth": 1.6}, "encoding": {
"x": {"field": "r", "type": "quantitative", "title": "Recall", "scale": {"domain": [-0.04, 1.04], "nice": false, "zero": false}, "axis": {"values": [0, 0.2, 0.4, 0.6, 0.8, 1.0], "format": ".1f", "labelPadding": 5, "titlePadding": 12, "labelFlush": false}},
"color": {"field": "m", "type": "nominal", "scale": {"domain": ["Monocle2 (AUC 0.621)", "MAST (AUC 0.69)", "ROTS (AUC 0)", "NBID_scran (AUC 0.847)", "NBID (AUC 0.848)"], "range": ["#FF0000", "#CCFF00", "#00FF66", "#0066FF", "#CC00FF"]}, "legend": {"orient": "none", "legendX": 13.8, "legendY": 278.4}},
"order": {"value": null}}},
{"mark": {"type": "line", "opacity": 0, "clip": true}, "encoding": {
"x": {"field": "r", "type": "quantitative", "title": "b", "scale": {"domain": [-0.04, 1.04], "nice": false, "zero": false}, "axis": {"orient": "top", "labels": false, "ticks": false, "domain": false, "titleX": -53.8, "titleY": -26.7, "titleAlign": "left", "titleAnchor": "start", "titleBaseline": "alphabetic", "titleAngle": 0, "titleFontSize": 30, "titleFontWeight": "bold", "titlePadding": 0}},
"detail": {"field": "m"}, "order": {"value": null}}}
],
"resolve": {"axis": {"x": "independent"}}
},
{
"width": 353, "height": 352,
"data": {"name": "c"},
"title": {"text": "Intermediate UMI differences", "subtitle": "Precision\u2013Recall \u2013 P: 10000, N: 1579700", "anchor": "middle", "frame": "group", "offset": -51, "subtitlePadding": 7.3, "font": "Liberation Sans", "fontSize": 21, "fontWeight": "normal", "color": "black", "subtitleFont": "Liberation Sans", "subtitleFontSize": 16, "subtitleFontWeight": "bold", "subtitleColor": "black"},
"encoding": {"y": {"field": "p", "type": "quantitative", "title": "Precision", "scale": {"domain": [0.792, 1.008], "nice": false, "zero": false}, "axis": {"values": [0.8, 0.85, 0.9, 0.95, 1.0], "format": ".2f", "labelAngle": 270, "labelAlign": "center", "labelBaseline": "bottom", "labelPadding": 5, "titlePadding": 14}}},
"layer": [
{"mark": {"type": "line", "clip": true, "strokeWidth": 1.6}, "encoding": {
"x": {"field": "r", "type": "quantitative", "title": "Recall", "scale": {"domain": [-0.04, 1.04], "nice": false, "zero": false}, "axis": {"values": [0, 0.2, 0.4, 0.6, 0.8, 1.0], "format": ".1f", "labelPadding": 5, "titlePadding": 12, "labelFlush": false}},
"color": {"field": "m", "type": "nominal", "scale": {"domain": ["Monocle2 (AUC 0.36)", "MAST (AUC 0.018)", "ROTS (AUC 0)", "NBID_scran (AUC 0.683)", "NBID (AUC 0.687)"], "range": ["#FF0000", "#CCFF00", "#00FF66", "#0066FF", "#CC00FF"]}, "legend": {"orient": "none", "legendX": 13.8, "legendY": 278.4}},
"order": {"value": null}}},
{"mark": {"type": "line", "opacity": 0, "clip": true}, "encoding": {
"x": {"field": "r", "type": "quantitative", "title": "c", "scale": {"domain": [-0.04, 1.04], "nice": false, "zero": false}, "axis": {"orient": "top", "labels": false, "ticks": false, "domain": false, "titleX": -50.3, "titleY": -35.7, "titleAlign": "left", "titleAnchor": "start", "titleBaseline": "alphabetic", "titleAngle": 0, "titleFontSize": 30, "titleFontWeight": "bold", "titlePadding": 0}},
"detail": {"field": "m"}, "order": {"value": null}}}
],
"resolve": {"axis": {"x": "independent"}}
}
],
"resolve": {"scale": {"x": "independent", "y": "independent", "color": "independent"}, "legend": {"color": "independent"}},
"config": {
"font": "Liberation Sans",
"view": {"stroke": "black", "strokeWidth": 1},
"axis": {"grid": false, "domain": false, "tickColor": "black", "tickSize": 8, "tickWidth": 1, "labelColor": "black", "titleColor": "black", "labelFont": "Liberation Sans", "titleFont": "Liberation Sans", "labelFontSize": 15, "titleFontSize": 16, "titleFontWeight": "normal", "labelOverlap": false},
"legend": {"title": null, "symbolType": "M-2,0H2", "symbolSize": 121, "symbolStrokeWidth": 2, "labelFont": "Liberation Sans", "labelFontSize": 11, "labelColor": "black", "rowPadding": 1.55, "labelOffset": 14.5, "padding": 0, "labelLimit": 300}
}
}
